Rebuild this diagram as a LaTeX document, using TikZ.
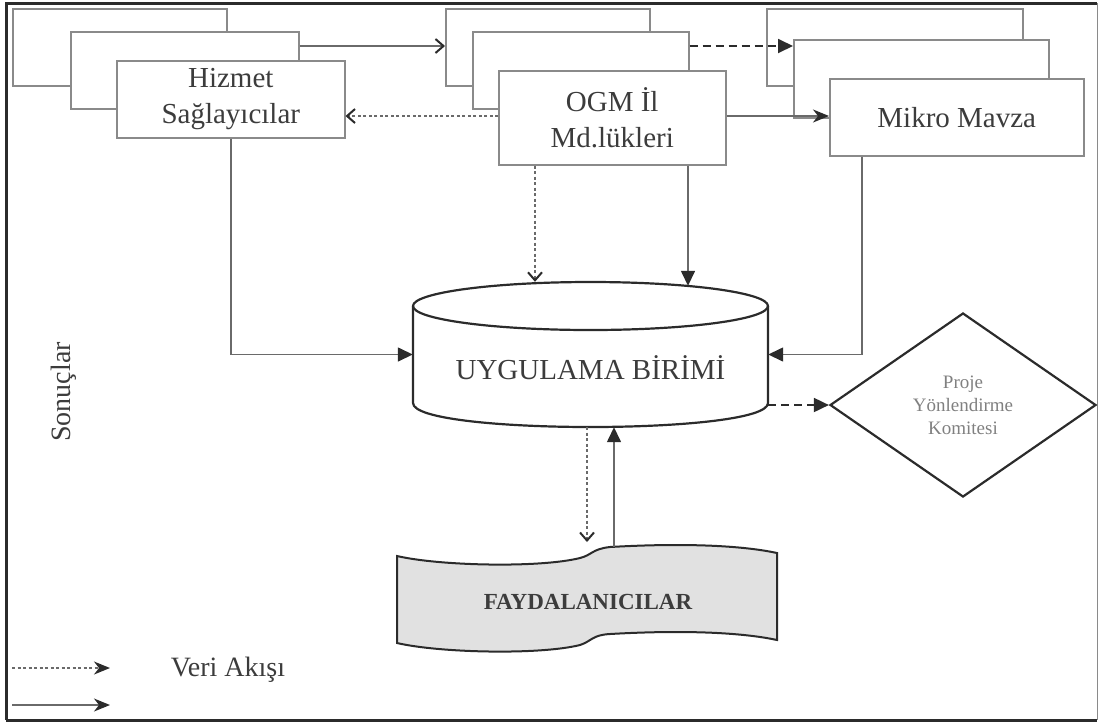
\documentclass[tikz,border=0pt]{standalone}
\usepackage{fontspec}
\setmainfont{Liberation Serif}
\usetikzlibrary{arrows.meta, shapes.geometric, calc}
\definecolor{boxgray}{HTML}{8A8A8A}
\definecolor{linegray}{HTML}{6A6A6A}
\definecolor{darkline}{HTML}{2B2B2B}
\definecolor{txtgray}{HTML}{3C3C3C}
\definecolor{paletxt}{HTML}{808080}
\definecolor{faydafill}{HTML}{E1E1E1}

\begin{document}
\begin{tikzpicture}[x=1pt, y=-1pt,
    box/.style={draw=boxgray, line width=1.5pt, fill=white, inner sep=0pt, anchor=north west,
        align=center, text=txtgray, font=\fontsize{29}{36}\selectfont},
    flow/.style={draw=linegray, line width=1.5pt},
    data/.style={flow, dash pattern=on 3pt off 2.5pt},
    trig/.style={flow, draw=darkline, line width=1.8pt, dash pattern=on 8pt off 5pt},
    barb/.style={-{Straight Barb[length=8pt, width=14pt, line width=2pt, darkline]}},
    tri/.style={-{Triangle[length=15pt, width=14pt, darkline]}},
    stl/.style={-{Stealth[length=16pt, width=13pt, inset=5pt, darkline]}},
    cyl/.style={draw=darkline, line width=2.2pt}]
    \useasboundingbox (0,0) rectangle (1099,724);

    % Frame
    \draw[darkline, line width=3pt] (6,720) -- (6,3) -- (1097,3);
    \draw[darkline, line width=3pt] (6,720) -- (1097,720);
    \draw[boxgray, line width=1pt] (1097,3) -- (1097,720);

    % Stacked boxes
    \node[box, minimum width=214pt, minimum height=77pt] (hizA) at (12,8) {};
    \node[box, minimum width=228pt, minimum height=77pt] (hizB) at (70,31) {};
    \node[box, minimum width=228pt, minimum height=77pt] (hiz) at (116,60) {Hizmet\\Sağlayıcılar};

    \node[box, minimum width=204pt, minimum height=77pt] (ogmA) at (445,8) {};
    \node[box, minimum width=216pt, minimum height=77pt] (ogmB) at (472,31) {};
    \node[box, minimum width=227pt, minimum height=94pt] (ogm) at (498,70) {OGM İl\\Md.lükleri};

    \node[box, minimum width=256pt, minimum height=77pt] (mikA) at (766,8) {};
    \node[box, minimum width=255pt, minimum height=78pt] (mikB) at (793,39) {};
    \node[box, minimum width=254pt, minimum height=77pt] (mik) at (829,78) {Mikro Mavza};

    % Cylinder
    \node[minimum width=355pt, minimum height=145pt, inner sep=0pt] (uyg) at (590.5,354.5) {};
    \draw[cyl] (413,306) -- (413,403) .. controls (413,435) and (768,435) .. (768,403) -- (768,306);
    \draw[cyl] (590.5,306) ellipse [x radius=177.5, y radius=24];
    \node[text=txtgray, font=\fontsize{29}{36}\selectfont] (uygtxt) at (590.5,368) {UYGULAMA BİRİMİ};

    % Diamond
    \node[diamond, draw=darkline, line width=2.2pt, minimum width=266pt, minimum height=184pt,
        inner sep=0pt, align=center, text=paletxt, font=\fontsize{19}{23}\selectfont]
        (kom) at (963,405) {Proje\\Yönlendirme\\Komitesi};

    % Document shape
    \draw[darkline, line width=2pt, fill=faydafill]
        (397,556) .. controls (440,566) and (540,568) .. (580,558)
        .. controls (592,555) and (592,549) .. (610,547)
        .. controls (680,543) and (740,545) .. (777,553) -- (777,640)
        .. controls (740,632) and (680,630) .. (610,634)
        .. controls (592,635) and (592,641) .. (580,645)
        .. controls (540,655) and (440,653) .. (397,643) -- cycle;
    \node[text=txtgray, font=\bfseries\fontsize{23}{28}\selectfont] (fayda) at (588,602) {FAYDALANICILAR};
    \coordinate (faydaIn) at (587,542);
    \coordinate (faydaOut) at (614,547);

    % Connectors
    \draw[flow, barb] (hizB.east |- 0,46) -- (ogmA.west |- 0,46);
    \draw[trig, tri] (ogmB.east |- 0,46) -- (mikB.west |- 0,46);
    \draw[data, barb] (ogm.west |- 0,116) -- (hiz.east |- 0,116);
    \draw[flow, stl] (ogm.east |- 0,116) -- (mik.west |- 0,116);
    \draw[flow, tri] (hiz.south) |- (uyg.west);
    \draw[data, barb] (ogm.south -| 535,0) -- (uyg.north -| 535,0);
    \draw[flow, tri, shorten >=-4pt] (ogm.south -| 688,0) -- (uyg.north -| 688,0);
    \draw[flow, tri] (mik.south -| 862,0) |- (uyg.east);
    \draw[trig, tri] (uyg.east |- kom.west) -- (kom.west);
    \draw[data, barb] (uyg.south -| faydaIn) -- (faydaIn);
    \draw[flow, tri] (faydaOut) -- (uyg.south -| faydaOut);

    % Legend
    \coordinate (lgA) at (12,668);
    \coordinate (lgB) at (110,668);
    \coordinate (lgC) at (12,705);
    \coordinate (lgD) at (110,705);
    \draw[data, stl] (lgA) -- (lgB);
    \draw[flow, stl] (lgC) -- (lgD);
    \node[text=txtgray, font=\fontsize{28}{34}\selectfont] (veri) at (228,670) {Veri Akışı};
    \node[text=txtgray, font=\fontsize{28}{34}\selectfont, rotate=90] (sonuc) at (64,392) {Sonuçlar};

\end{tikzpicture}
\end{document}
